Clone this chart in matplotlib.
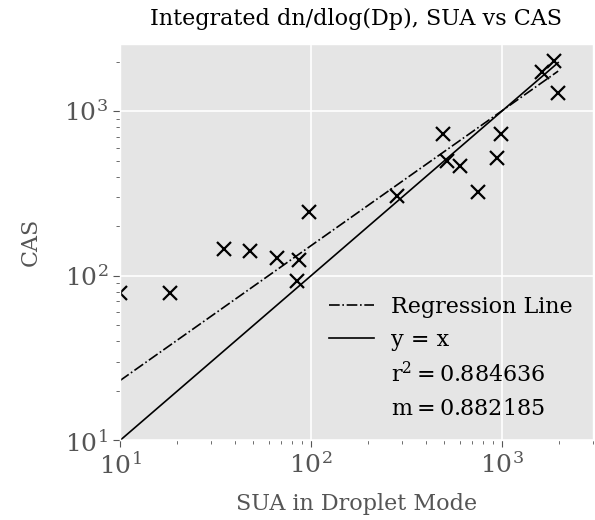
import numpy as np
import matplotlib
matplotlib.use("Agg")
import matplotlib.pyplot as plt

# data
sua = [10, 18.3, 35.1, 48, 66.7, 86.9, 84.7, 98, 283, 490, 514, 603, 751, 946, 995, 1615, 1871, 1971]
cas = [78.6, 78.6, 145, 140.6, 128, 125, 93.5, 243, 306, 726, 495, 466, 321, 519, 726, 1730, 2011, 1291]

# regression line end points
reg_x = [10, 1971]
reg_y = [23.1, 1750]

r2 = 0.884636
m = 0.882185

plt.style.use('ggplot')
plt.rcParams['font.family'] = 'DejaVu Serif'
plt.rcParams['mathtext.fontset'] = 'dejavuserif'

fig = plt.figure(figsize=(5.95, 5.2), dpi=100)
ax = fig.add_axes([0.2017, 0.153, 0.7949, 0.762])

ax.plot(sua, cas, 'x', color='black', markersize=10, markeredgewidth=1.6)
ax.plot(reg_x, reg_y, '-.', color='black', linewidth=1.2, label='Regression Line')
ax.plot([min(sua), max(sua)], [min(sua), max(sua)], '-', color='black', linewidth=1.2, label='y = x')
# text only entries for the legend
ax.plot([], [], ' ', label=r'$\mathrm{r^2 = %.6f}$' % r2)
ax.plot([], [], ' ', label=r'$\mathrm{m = %.6f}$' % m)

ax.set_xscale('log')
ax.set_yscale('log')
ax.set_xlim(10, 3000)
ax.set_ylim(10, 2550)

ax.grid(True, which='major', color='white', linewidth=1.2)
ax.tick_params(axis='both', which='major', labelsize=18, colors='#555555', length=5)
ax.tick_params(axis='both', which='minor', length=3, colors='#555555')

ax.set_xlabel('SUA in Droplet Mode', fontsize=16, color='#555555', labelpad=10)
ax.set_ylabel('CAS', fontsize=16, color='#555555', labelpad=16)
ax.set_title('Integrated dn/dlog(Dp), SUA vs CAS', fontsize=16, color='black', pad=14)

leg = ax.legend(loc='lower right', frameon=False, fontsize=16, handlelength=2.0)

fig.savefig('out.png', dpi=100)
